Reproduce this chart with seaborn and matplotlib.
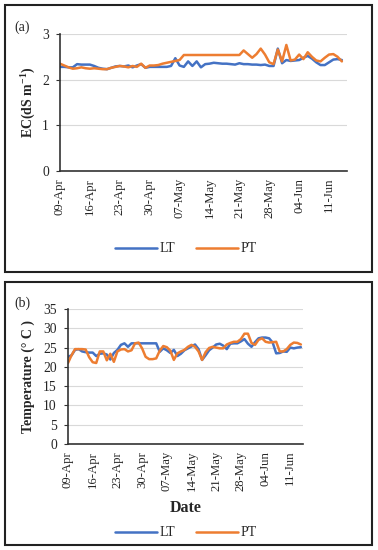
import pandas as pd
import numpy as np
import seaborn as sns
import matplotlib.pyplot as plt
import matplotlib.dates as mdates
from matplotlib.patches import Rectangle
from matplotlib.lines import Line2D

sns.set_style('white')
plt.rcParams['font.family'] = ['Liberation Serif', 'DejaVu Serif']
plt.rcParams['mathtext.default'] = 'regular'

# daily readings from 09-Apr
ec_lt = [2.28, 2.28, 2.27, 2.27, 2.34, 2.33, 2.33, 2.33, 2.30, 2.26,
         2.24, 2.23, 2.26, 2.29, 2.30, 2.29, 2.31, 2.27, 2.31, 2.34,
         2.26, 2.28, 2.28, 2.28, 2.28, 2.28, 2.30, 2.47, 2.31, 2.28,
         2.40, 2.30, 2.40, 2.27, 2.34, 2.35, 2.37, 2.36, 2.35, 2.35,
         2.34, 2.33, 2.36, 2.34, 2.34, 2.33, 2.33, 2.32, 2.33, 2.30,
         2.30, 2.68, 2.36, 2.43, 2.41, 2.42, 2.43, 2.48, 2.52, 2.46,
         2.38, 2.32, 2.32, 2.38, 2.44, 2.45, 2.43]
ec_pt = [2.35, 2.31, 2.27, 2.24, 2.25, 2.27, 2.25, 2.24, 2.25, 2.24,
         2.23, 2.23, 2.26, 2.28, 2.30, 2.29, 2.27, 2.30, 2.28, 2.35,
         2.26, 2.31, 2.31, 2.32, 2.35, 2.37, 2.39, 2.41, 2.43, 2.54,
         2.54, 2.54, 2.54, 2.54, 2.54, 2.54, 2.54, 2.54, 2.54, 2.54,
         2.54, 2.54, 2.54, 2.64, 2.56, 2.48, 2.56, 2.68, 2.55, 2.38,
         2.34, 2.66, 2.40, 2.76, 2.42, 2.44, 2.55, 2.45, 2.60, 2.50,
         2.42, 2.40, 2.48, 2.55, 2.56, 2.50, 2.40]
temp_lt = [22.6, 23.0, 24.4, 24.6, 24.0, 23.8, 23.7, 23.7, 22.8, 23.4,
           23.5, 23.2, 21.9, 23.6, 24.4, 25.7, 26.1, 25.2, 26.1, 26.1,
           26.1, 26.1, 26.1, 26.1, 26.1, 26.1, 23.9, 24.8, 24.3, 23.6,
           24.4, 22.8, 23.4, 24.3, 24.8, 25.3, 25.8, 24.6, 21.8, 23.0,
           24.3, 25.0, 25.8, 26.0, 25.5, 24.6, 26.0, 26.1, 26.1, 26.6,
           27.2, 26.0, 25.2, 26.4, 27.4, 27.6, 27.6, 27.4, 26.3, 23.5,
           23.6, 24.0, 23.9, 25.0, 24.8, 25.0, 25.1]
temp_pt = [21.0, 23.0, 24.6, 24.6, 24.6, 24.5, 22.5, 21.2, 21.0, 24.0,
           24.0, 21.7, 23.4, 21.3, 24.0, 24.5, 24.6, 24.0, 24.3, 26.1,
           26.3, 24.8, 22.6, 22.0, 22.0, 22.2, 24.2, 25.4, 25.1, 24.2,
           21.8, 23.5, 24.0, 24.4, 25.2, 25.7, 25.2, 24.0, 21.8, 23.8,
           24.9, 25.2, 25.0, 24.8, 24.8, 25.8, 26.2, 26.5, 26.5, 27.2,
           28.6, 28.6, 26.2, 25.7, 27.0, 27.4, 26.5, 26.3, 26.4, 26.5,
           24.0, 24.0, 24.6, 25.7, 26.3, 26.2, 25.8]
treatments = ['LT', 'PT']

dates = pd.date_range('2019-04-09', periods=len(ec_lt), freq='D')
start = pd.Timestamp('2019-04-09')
ticks = pd.date_range(start, periods=10, freq='7D')
colors = {'LT': '#4472C4', 'PT': '#ED7D31'}

ec_df = pd.DataFrame({'Date': np.tile(dates, 2), 'EC': ec_lt + ec_pt,
                      'Treatment': np.repeat(treatments, len(dates))})
t_df = pd.DataFrame({'Date': np.tile(dates, 2), 'Temp': temp_lt + temp_pt,
                     'Treatment': np.repeat(treatments, len(dates))})

W, H = 378, 550
fig = plt.figure(figsize=(W / 100, H / 100), dpi=100)

# panel frames
for y0, y1 in [(5, 272), (282, 545)]:
    fig.patches.append(Rectangle((5 / W, 1 - y1 / H), 367 / W, (y1 - y0) / H,
                                 transform=fig.transFigure, fill=False,
                                 ec='#222222', lw=1.5))

ax1 = fig.add_axes([60 / W, 1 - 171 / H, 287 / W, 137 / H])
ax2 = fig.add_axes([68 / W, 1 - 444 / H, 235 / W, 135 / H])


def style(ax, xmax_days):
    ax.set_xlim(start, start + pd.Timedelta(days=xmax_days))
    ax.set_xticks(ticks)
    ax.xaxis.set_major_formatter(mdates.DateFormatter('%d-%b'))
    ax.tick_params(axis='x', rotation=90, labelsize=9.2, length=4,
                   direction='inout', color='#333333', pad=3)
    ax.tick_params(axis='y', labelsize=9.8, length=3, direction='out',
                   color='#333333', left=True, pad=5)
    ax.grid(axis='y', color='#d9d9d9', lw=0.8)
    ax.set_axisbelow(True)
    for s in ['top', 'right']:
        ax.spines[s].set_visible(False)
    for s in ['left', 'bottom']:
        ax.spines[s].set_color('#333333')
        ax.spines[s].set_linewidth(1.2)


sns.lineplot(data=ec_df, x='Date', y='EC', hue='Treatment', palette=colors,
             lw=1.8, legend=False, ax=ax1)
style(ax1, 67.2)
ax1.set_ylim(0, 3)
ax1.set_yticks([0, 1, 2, 3])
ax1.set_xlabel('')
ax1.set_ylabel('EC(dS m$^{-1}$)', fontsize=10, fontweight='bold', labelpad=3)

sns.lineplot(data=t_df, x='Date', y='Temp', hue='Treatment', palette=colors,
             lw=1.8, legend=False, ax=ax2)
style(ax2, 66.6)
ax2.set_ylim(0, 35)
ax2.set_yticks(range(0, 36, 5))
ax2.set_xlabel('Date', fontsize=11.5, fontweight='bold', labelpad=6)
ax2.set_ylabel('Temperature (° C )', fontsize=10, fontweight='bold', labelpad=6)

handles = [Line2D([0], [0], color=colors[t], lw=1.8) for t in treatments]
for ax, ypos in [(ax1, 249), (ax2, 533)]:
    fig.legend(handles, treatments, loc='center', ncol=2, frameon=False,
               bbox_to_anchor=(186 / W, 1 - ypos / H), fontsize=10,
               handlelength=3, handletextpad=0.2, columnspacing=1.5)

fig.text(14 / W, 1 - 27 / H, '(a)', fontsize=10, va='center')
fig.text(14 / W, 1 - 303 / H, '(b)', fontsize=10, va='center')

fig.savefig('out.png', dpi=100)
